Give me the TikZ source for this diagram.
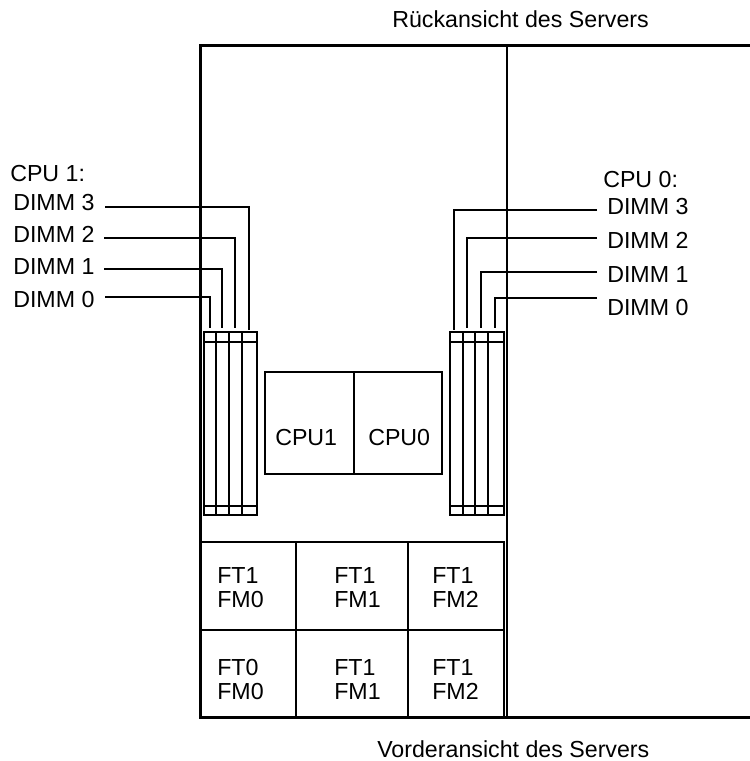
\documentclass[tikz,border=0pt]{standalone}
\usepackage{fontspec}
\setmainfont{Liberation Sans}
\begin{document}
\begin{tikzpicture}[x=0.75pt,y=-0.75pt,line join=miter,
  lab/.style={inner sep=0pt,font=\fontsize{17.4pt}{20pt}\selectfont,align=left},
  thin line/.style={line width=1.5pt},
  thick line/.style={line width=2.25pt},
  wire/.style={line width=1.5pt},
  cpubox/.style={draw,line width=1.5pt,minimum height=76.5pt,inner sep=0pt,outer sep=0pt,anchor=north west}]
\useasboundingbox (0,0) rectangle (750,761);
% chassis
\draw[thick line] (750,45) -- (200,45) -- (200,717) -- (750,717);
\draw[thin line] (507,45) -- (507,716);
% fan tray
\draw[thin line] (201,542) -- (504,542) -- (504,716);
\draw[thin line] (201,630) -- (504,630);
\draw[thin line] (296,542) -- (296,716);
\draw[thin line] (408,542) -- (408,716);
% CPU
\node[cpubox,minimum width=66.75pt] (cpuL) at (265,372) {};
\node[cpubox,minimum width=66pt] (cpuR) at (354,372) {};
\node[lab,anchor=base west] (cpuLt) at (275,445) {CPU1};
\node[lab,anchor=base west] (cpuRt) at (368,445) {CPU0};
% DIMM left
\draw[thin line] (204,332) rectangle (257,515);
\draw[thin line] (204,342) -- (257,342);
\draw[thin line] (204,506) -- (257,506);
\foreach \x in {216,229,242}\draw[thin line] (\x,332) -- (\x,515);
% DIMM right
\draw[thin line] (450,332) rectangle (504,515);
\draw[thin line] (450,342) -- (504,342);
\draw[thin line] (450,506) -- (504,506);
\foreach \x in {462.5,475,488}\draw[thin line] (\x,332) -- (\x,515);
% labels
\node[lab,anchor=base west] (cpu1) at (10,181) {CPU 1:};
\node[lab,anchor=base west] (l3) at (13,210) {DIMM 3};
\node[lab,anchor=base west] (l2) at (13,242) {DIMM 2};
\node[lab,anchor=base west] (l1) at (13,274) {DIMM 1};
\node[lab,anchor=base west] (l0) at (13,307) {DIMM 0};
\node[lab,anchor=base west] (cpu0) at (603,187) {CPU 0:};
\node[lab,anchor=base west] (r3) at (607,214) {DIMM 3};
\node[lab,anchor=base west] (r2) at (607,248) {DIMM 2};
\node[lab,anchor=base west] (r1) at (607,282) {DIMM 1};
\node[lab,anchor=base west] (r0) at (607,315) {DIMM 0};
% connectors
\coordinate (a3) at (249,330); \coordinate (a2) at (235,328); \coordinate (a1) at (222,328); \coordinate (a0) at (210,328);
\coordinate (b3) at (454,330); \coordinate (b2) at (467,328); \coordinate (b1) at (481,328); \coordinate (b0) at (495,328);
\draw[wire] (105,207) -| (a3);
\draw[wire] (104,238) -| (a2);
\draw[wire] (104,269) -| (a1);
\draw[wire] (105,297) -| (a0);
\draw[wire] (597,210) -| (b3);
\draw[wire] (597,238) -| (b2);
\draw[wire] (597,272) -| (b1);
\draw[wire] (597,298) -| (b0);
% fan labels
\node[lab,anchor=base west] at (217,583) {FT1};
\node[lab,anchor=base west] at (217,607) {FM0};
\node[lab,anchor=base west] at (334,583) {FT1};
\node[lab,anchor=base west] at (334,607) {FM1};
\node[lab,anchor=base west] at (432,583) {FT1};
\node[lab,anchor=base west] at (432,607) {FM2};
\node[lab,anchor=base west] at (217,675) {FT0};
\node[lab,anchor=base west] at (217,699) {FM0};
\node[lab,anchor=base west] at (334,675) {FT1};
\node[lab,anchor=base west] at (334,699) {FM1};
\node[lab,anchor=base west] at (432,675) {FT1};
\node[lab,anchor=base west] at (432,699) {FM2};
% titles
\node[lab,anchor=base west] (rear) at (392,27) {Rückansicht des Servers};
\node[lab,anchor=base west] (front) at (377,757) {Vorderansicht des Servers};
\end{tikzpicture}
\end{document}
